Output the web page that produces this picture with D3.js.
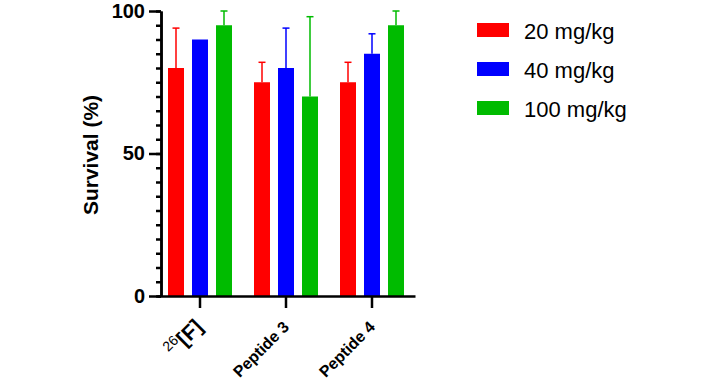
<!DOCTYPE html>
<html>
<head>
<meta charset="utf-8">
<script src="https://cdn.jsdelivr.net/npm/d3@7"></script>
<style>
  body { margin: 0; background: #fff; }
  text { font-family: "Liberation Sans", Arial, sans-serif; }
</style>
</head>
<body>
<div class="chart"></div>
<script>
const categories = ["26[F]", "Peptide 3", "Peptide 4"];
const series = ["20 mg/kg", "40 mg/kg", "100 mg/kg"];
const colors = ["#ff0000", "#0000ff", "#00bb00"];
// mean survival per series, one value per category
const means = [
    [80, 75, 75],
    [90, 80, 85],
    [95, 70, 95]
];
// top of the upper error bar
const errTop = [
    [94, 82, 82],
    [90, 94, 92],
    [100, 98, 100]
];
const yTicks = [0, 50, 100];

const width = 706, height = 381;

const svg = d3.select(".chart").append("svg")
    .attr("width", width)
    .attr("height", height)
    .style("background", "#fff");

const y = d3.scaleLinear()
    .domain([0, 100])
    .range([296, 11]);

const x = d3.scaleBand()
    .domain(categories)
    .range([157, 415]);

const xs = d3.scaleBand()
    .domain(series)
    .range([-36, 36])
    .paddingInner(1 / 3)
    .paddingOuter(1 / 6);

const data = [];
series.forEach((s, si) => {
    categories.forEach((c, ci) => {
        data.push({ s, c, si, v: means[si][ci], e: errTop[si][ci] });
    });
});

const cx = d => x(d.c) + x.bandwidth() / 2 + xs(d.s);

// error bars (upper only)
const eb = svg.append("g").selectAll("g")
    .data(data.filter(d => d.e > d.v))
    .enter().append("g")
    .attr("stroke", d => colors[d.si])
    .attr("stroke-width", 1.5);
eb.append("line")
    .attr("x1", d => cx(d) + xs.bandwidth() / 2)
    .attr("x2", d => cx(d) + xs.bandwidth() / 2)
    .attr("y1", d => y(d.v))
    .attr("y2", d => y(d.e));
eb.append("line")
    .attr("x1", d => cx(d) + xs.bandwidth() / 2 - 3.5)
    .attr("x2", d => cx(d) + xs.bandwidth() / 2 + 3.5)
    .attr("y1", d => y(d.e))
    .attr("y2", d => y(d.e));

svg.append("g").selectAll("rect")
    .data(data)
    .enter().append("rect")
    .attr("x", d => cx(d))
    .attr("y", d => y(d.v))
    .attr("width", xs.bandwidth())
    .attr("height", d => y(0) - y(d.v))
    .attr("fill", d => colors[d.si]);

// y axis: minor ticks every 5, major ticks labelled
svg.append("g")
    .attr("transform", "translate(161,0)")
    .call(d3.axisLeft(y).tickValues(d3.range(0, 101, 5)).tickSize(5).tickFormat("").tickSizeOuter(0))
    .call(g => g.selectAll("line, path").attr("stroke", "#000").attr("stroke-width", 2.5));

const yAxis = svg.append("g")
    .attr("transform", "translate(161,0)")
    .call(d3.axisLeft(y).tickValues(yTicks).tickSize(12).tickPadding(4).tickSizeOuter(0));
yAxis.selectAll("line, path").attr("stroke", "#000").attr("stroke-width", 2.5);
yAxis.selectAll("text")
    .attr("fill", "#000")
    .style("font-size", "20px")
    .style("font-weight", "bold")
    .style("font-family", "'Liberation Sans', Arial, sans-serif");

// x axis
const xAxis = svg.append("g")
    .attr("transform", `translate(0,${y(0)})`)
    .call(d3.axisBottom(x).tickSize(12).tickSizeOuter(0).tickFormat(""));
xAxis.selectAll("line, path").attr("stroke", "#000").attr("stroke-width", 2.5);

const xl = svg.append("g").selectAll("text")
    .data(categories)
    .enter().append("text")
    .attr("transform", c => `translate(${x(c) + x.bandwidth() / 2 + 4},328) rotate(-45)`)
    .attr("text-anchor", "end")
    .attr("font-weight", "bold")
    .attr("fill", "#000");
xl.each(function (c) {
    const t = d3.select(this);
    const m = c.match(/^(\d+)(\[.*\])$/);
    if (m) {
        t.append("tspan").text(m[1]).attr("font-weight", "normal").attr("font-size", 14).attr("dy", -8);
        t.append("tspan").text(m[2]).attr("font-size", 21).attr("dy", 8);
    } else {
        t.text(c).attr("font-size", 16);
    }
});

svg.append("text")
    .attr("transform", `translate(98,155) rotate(-90)`)
    .attr("text-anchor", "middle")
    .attr("font-size", 21)
    .attr("font-weight", "bold")
    .text("Survival (%)");

// legend
const legend = svg.append("g").selectAll("g")
    .data(series)
    .enter().append("g")
    .attr("transform", (d, i) => `translate(477,${23 + i * 39})`);
legend.append("rect")
    .attr("width", 32)
    .attr("height", 14)
    .attr("fill", (d, i) => colors[i]);
legend.append("text")
    .attr("x", 47)
    .attr("y", 16)
    .attr("font-size", 22)
    .attr("fill", "#000")
    .text(d => d);
</script>
</body>
</html>
